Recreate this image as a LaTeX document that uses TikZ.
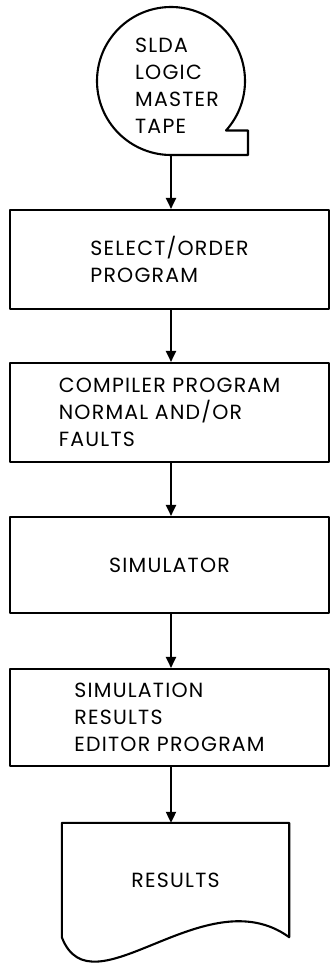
\documentclass[tikz,border=0pt]{standalone}
\usepackage{fontspec}
\setmainfont{Poppins}[LetterSpace=6]
\usetikzlibrary{arrows.meta}
\begin{document}
\begin{tikzpicture}[x=1pt,y=1pt,
  every node/.style={font=\fontsize{20.5}{27}\selectfont},
  outline/.style={line width=2.1pt, line join=round},
  stepbox/.style={outline, draw, rectangle, minimum width=319pt, inner sep=0pt, align=left},
  arr/.style={line width=2.1pt, -{Triangle[length=11pt,width=10pt]}}]
  \useasboundingbox (0,0) rectangle (330,-963);

  % magnetic tape symbol
  \node[circle, minimum size=148pt, inner sep=0pt, outer sep=0pt] (tape) at (171,-81) {};
  \draw[outline] (tape.-42) arc[start angle=-42, end angle=270, radius=74pt]
    -- ++(77,0) -- ++(0,24.5) -- cycle;
  \node[align=left, inner sep=0pt] (tapetext) at (177,-86) {SLDA\\LOGIC\\MASTER\\TAPE};

  % process boxes
  \node[stepbox, minimum height=99pt] (box1) at (169.5,-259.5) {SELECT/ORDER\\PROGRAM};
  \node[stepbox, minimum height=99pt] (box2) at (169.5,-412.5) {COMPILER PROGRAM\\NORMAL AND/OR\\FAULTS};
  \node[stepbox, minimum height=96pt] (box3) at (169.5,-565) {SIMULATOR};
  \node[stepbox, minimum height=97pt] (box4) at (169.5,-717.5) {SIMULATION\\RESULTS\\EDITOR PROGRAM};

  % document symbol
  \node[rectangle, minimum width=227pt, minimum height=114pt, inner sep=0pt] (results) at (175.5,-880) {RESULTS};
  \draw[outline] (results.south west) -- (results.north west) -- (results.north east) -- (results.south east)
    .. controls +(-84,61) and +(30,-78) .. (results.south west) -- cycle;

  % flow connectors
  \draw[arr] (tape.south) -- (tape.south |- box1.north);
  \draw[arr] (box1.south -| tape) -- (box2.north -| tape);
  \draw[arr] (box2.south -| tape) -- (box3.north -| tape);
  \draw[arr] (box3.south -| tape) -- (box4.north -| tape);
  \draw[arr] (box4.south -| tape) -- (results.north -| tape);
\end{tikzpicture}
\end{document}
